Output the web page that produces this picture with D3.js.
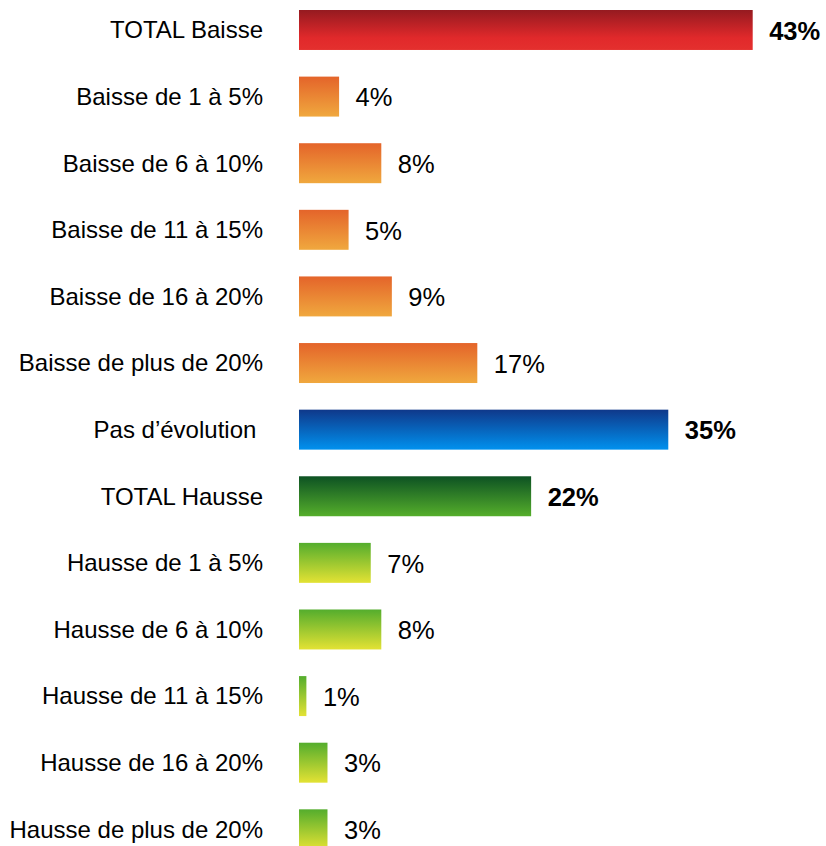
<!DOCTYPE html>
<html>
<head>
<meta charset="utf-8">
<script src="https://cdn.jsdelivr.net/npm/d3@7"></script>
<style>
  body { margin: 0; background: #fff; }
  text { font-family: "Liberation Sans", Arial, sans-serif; font-size: 24px; fill: #000; }
  text.value { font-size: 25.5px; }
</style>
</head>
<body>
<div class="chart"></div>
<script>
// Chart data
let categories = [
    "TOTAL Baisse", "Baisse de 1 à 5%", "Baisse de 6 à 10%", "Baisse de 11 à 15%",
    "Baisse de 16 à 20%", "Baisse de plus de 20%", "Pas d\u2019évolution\u00a0",
    "TOTAL Hausse", "Hausse de 1 à 5%", "Hausse de 6 à 10%", "Hausse de 11 à 15%",
    "Hausse de 16 à 20%", "Hausse de plus de 20%"
];
let values = [43, 3.8, 7.8, 4.7, 8.8, 16.9, 35, 22, 6.8, 7.8, 0.7, 2.7, 2.7];
let valueLabels = ["43%", "4%", "8%", "5%", "9%", "17%", "35%", "22%", "7%", "8%", "1%", "3%", "3%"];
let groups = ["red", "orange", "orange", "orange", "orange", "orange", "blue",
    "dkgreen", "ltgreen", "ltgreen", "ltgreen", "ltgreen", "ltgreen"];
let totals = [true, false, false, false, false, false, true, true, false, false, false, false, false];

let svgWidth = 826;
let svgHeight = 846;

let svg = d3.select(".chart")
    .append("svg")
    .attr("width", svgWidth)
    .attr("height", svgHeight);

// Vertical gradients for each colour group
let gradients = {
    red: [["0%", "#951a20"], ["70%", "#e1292b"], ["100%", "#e4302e"]],
    orange: [["0%", "#e4642a"], ["100%", "#f0a83e"]],
    blue: [["0%", "#0f388a"], ["100%", "#0091ee"]],
    dkgreen: [["0%", "#0d5223"], ["100%", "#55ae2b"]],
    ltgreen: [["0%", "#54ad2d"], ["100%", "#e3e234"]]
};

let defs = svg.append("defs");
Object.keys(gradients).forEach(function(key) {
    let grad = defs.append("linearGradient")
        .attr("id", "grad-" + key)
        .attr("x1", 0).attr("y1", 0)
        .attr("x2", 0).attr("y2", 1);
    gradients[key].forEach(function(s) {
        grad.append("stop").attr("offset", s[0]).attr("stop-color", s[1]);
    });
});

let rows = categories.map((c, i) => ({
    category: c, value: values[i], label: valueLabels[i], group: groups[i], total: totals[i]
}));

// Scales
let xScale = d3.scaleLinear()
    .domain([0, 43])
    .range([299, 752.7]);

let yScale = d3.scaleBand()
    .domain(categories)
    .range([-3.32, -3.32 + 13 * 66.61])
    .paddingInner(0.4)
    .paddingOuter(0.2);

// Bars
svg.selectAll("rect.bar")
    .data(rows)
    .enter()
    .append("rect")
    .attr("class", "bar")
    .attr("x", xScale(0))
    .attr("y", d => yScale(d.category))
    .attr("width", d => xScale(d.value) - xScale(0))
    .attr("height", yScale.bandwidth())
    .attr("fill", d => "url(#grad-" + d.group + ")");

// Category labels on the left
let yAxis = svg.append("g")
    .attr("transform", `translate(${xScale(0) - 36}, 0)`)
    .call(d3.axisLeft(yScale).tickSize(0).tickPadding(0));
yAxis.select(".domain").remove();
yAxis.selectAll("text")
    .attr("font-family", null)
    .attr("font-size", null)
    .attr("dy", "0.35em")
    .style("white-space", "pre");

// Value labels
svg.selectAll("text.value")
    .data(rows)
    .enter()
    .append("text")
    .attr("class", "value")
    .attr("x", d => xScale(d.value) + 16.5)
    .attr("y", d => yScale(d.category) + yScale.bandwidth() / 2)
    .attr("dy", "0.38em")
    .attr("font-weight", d => d.total ? "bold" : "normal")
    .text(d => d.label);
</script>
</body>
</html>
